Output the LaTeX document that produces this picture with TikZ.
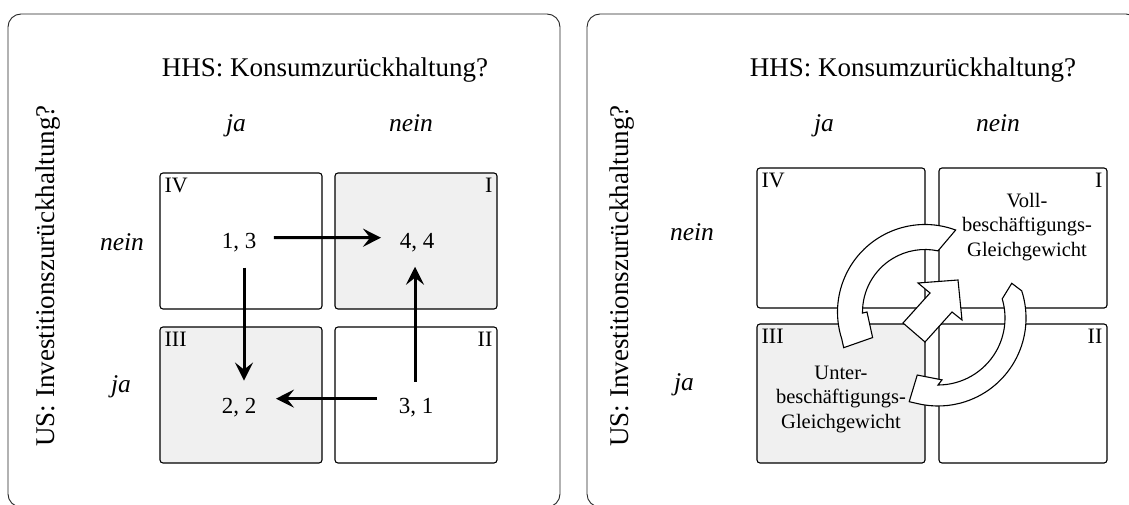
\documentclass[tikz,border=0pt]{standalone}
\usepackage{fontspec}
\setmainfont{Liberation Serif}
\usetikzlibrary{arrows.meta}
\begin{document}
\begin{tikzpicture}[x=1pt,y=-1pt,
  panel/.style={draw=black!85, line width=0.9pt, rounded corners=13pt},
  cell/.style={draw=black, line width=1.1pt, rounded corners=3pt, inner sep=0pt},
  graycell/.style={cell, fill=black!6},
  ttl/.style={font=\fontsize{27}{32}\selectfont, anchor=base, inner sep=0pt},
  lab/.style={font=\fontsize{25.5}{30}\selectfont\itshape, anchor=base, inner sep=0pt},
  vttl/.style={font=\fontsize{27}{32}\selectfont, rotate=90, inner sep=0pt},
  roman/.style={font=\fontsize{22}{26}\selectfont, inner sep=5pt},
  val/.style={font=\fontsize{23}{27}\selectfont, anchor=base, inner sep=0pt},
  ctext/.style={font=\fontsize{20.5}{24.5}\selectfont, align=center, inner sep=0pt},
  arr/.style={line width=3pt, -{Stealth[length=18pt,width=18pt,inset=7pt]}},
  hollow/.style={draw=black, line width=1.1pt, fill=white, line join=miter},
]
\useasboundingbox (0,0) rectangle (1129,505);
\clip (0,0) rectangle (1129,505);

% ---------------- left panel ----------------
\draw[panel] (8,14) rectangle (560,507);
\node[ttl] (tL) at (325,77) {HHS: Konsumzurückhaltung?};
\node[vttl] (vL) at (48,276) {US: Investitionszurückhaltung?};
\node[lab] (cjaL) at (236,132) {ja};
\node[lab] (cneinL) at (411,132) {nein};
\node[lab] (rneinL) at (122,250) {nein};
\node[lab] (rjaL) at (121,392) {ja};

\node[cell, minimum width=162pt, minimum height=136pt] (L4) at (241,241) {};
\node[graycell, minimum width=162pt, minimum height=136pt] (L1) at (416,241) {};
\node[graycell, minimum width=162pt, minimum height=136pt] (L3) at (241,395) {};
\node[cell, minimum width=162pt, minimum height=136pt] (L2) at (416,395) {};

\node[roman, anchor=north west] (nL4) at (L4.north west) {IV};
\node[roman, anchor=north east] (nL1) at (L1.north east) {I};
\node[roman, anchor=north west] (nL3) at (L3.north west) {III};
\node[roman, anchor=north east] (nL2) at (L2.north east) {II};

\node[val] (v13) at (239,248) {1, 3};
\node[val] (v44) at (417,248) {4, 4};
\node[val] (v22) at (239,413) {2, 2};
\node[val] (v31) at (416,413) {3, 1};

\draw[arr] ([shift={(17.5,-4.5)}]v13.east) -- ([shift={(-18.5,-4.5)}]v44.west);
\draw[arr] ([shift={(5,16)}]v13.south) -- ([shift={(5,-17)}]v22.north);
\draw[arr] ([shift={(-1,-16)}]v31.north) -- ([shift={(-2,15)}]v44.south);
\draw[arr] ([shift={(-21.5,-8.5)}]v31.west) -- ([shift={(19.5,-8.5)}]v22.east);

% ---------------- right panel ----------------
\draw[panel] (587,14) rectangle (1139,507);
\node[ttl] (tR) at (913,77) {HHS: Konsumzurückhaltung?};
\node[vttl] (vR) at (622,276) {US: Investitionszurückhaltung?};
\node[lab] (cjaR) at (824,132) {ja};
\node[lab] (cneinR) at (998,132) {nein};
\node[lab] (rneinR) at (692,240) {nein};
\node[lab] (rjaR) at (684,390) {ja};

\node[cell, minimum width=168pt, minimum height=140pt] (R4) at (841,238) {};
\node[cell, minimum width=168pt, minimum height=140pt] (R1) at (1023,238) {};
\node[graycell, minimum width=168pt, minimum height=139pt] (R3) at (841,393.5) {};
\node[cell, minimum width=168pt, minimum height=139pt] (R2) at (1023,393.5) {};

\node[roman, anchor=north west] (nR4) at (R4.north west) {IV};
\node[roman, anchor=north east] (nR1) at (R1.north east) {I};
\node[roman, anchor=north west] (nR3) at (R3.north west) {III};
\node[roman, anchor=north east] (nR2) at (R2.north east) {II};

\node[ctext] (voll) at (1027,227) {Voll-\\beschäftigungs-\\Gleichgewicht};
\node[ctext] (unter) at (841,399) {Unter-\\beschäftigungs-\\Gleichgewicht};

% curved arrow, upper left
\begin{scope}[shift={(925,312)}]
\draw[hollow] (-69.5:87.5) arc[start angle=-69.5, end angle=-198, radius=87.5]
  -- (-203.7:88.8) -- (-206:58.3) -- (-180:58) -- (-181:62.5)
  arc[start angle=-181, end angle=-78, radius=62.5] -- cycle;
\end{scope}
% curved arrow, lower right
\begin{scope}[shift={(938,318)}]
\draw[hollow] (-25.2:81.5) -- (-18:88) arc[start angle=-18, end angle=103, radius=88]
  -- (109:88.5) -- (110:60.7) -- (86.3:62) -- (90:67)
  arc[start angle=90, end angle=-16.6, radius=67] -- cycle;
\end{scope}
% straight arrow in the middle
\draw[hollow] (903,323) -- (925,342) -- (952,312) -- (962,320) -- (958,280)
  -- (918,283) -- (930,293) -- cycle;
\end{tikzpicture}
\end{document}
